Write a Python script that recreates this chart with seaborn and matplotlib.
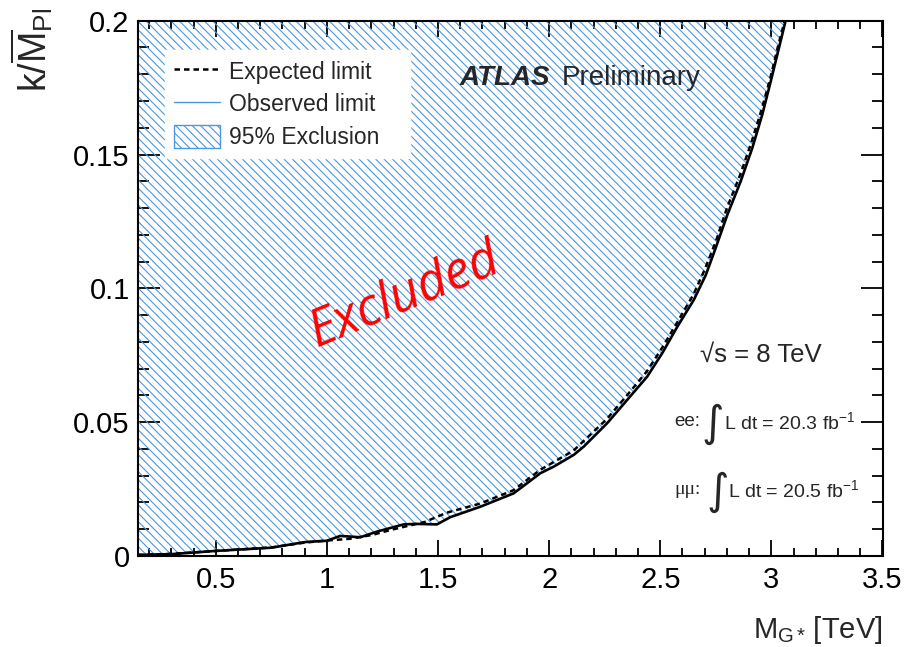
import numpy as np
import pandas as pd
import matplotlib
matplotlib.use("Agg")
import matplotlib.pyplot as plt
from matplotlib.lines import Line2D
from matplotlib.patches import Patch
from matplotlib.ticker import MultipleLocator, FuncFormatter
import seaborn as sns

# Observed limit on k/M_Pl versus graviton mass (TeV)
obs_mass = [0.15, 0.3, 0.5, 0.75, 0.9, 1.0, 1.06, 1.15, 1.225, 1.3, 1.345, 1.4,
            1.495, 1.555, 1.69, 1.84, 1.96, 2.021, 2.111, 2.156, 2.261, 2.351,
            2.441, 2.509, 2.577, 2.651, 2.705, 2.749, 2.802, 2.862, 2.914,
            2.959, 2.997, 3.034, 3.064]
obs_limit = [0.0004, 0.0007, 0.0019, 0.0031, 0.0052, 0.0057, 0.0075, 0.0070,
             0.0091, 0.0108, 0.0118, 0.0120, 0.0118, 0.0145, 0.0184, 0.0234,
             0.0309, 0.0334, 0.0378, 0.0409, 0.0496, 0.0583, 0.0670, 0.0758,
             0.0857, 0.0957, 0.1050, 0.1150, 0.1275, 0.1400, 0.1524, 0.1649,
             0.1773, 0.1898, 0.2]

# Expected limit
exp_mass = [0.15, 0.3, 0.5, 0.75, 0.9, 1.0, 1.1, 1.2, 1.3, 1.44, 1.54, 1.69,
            1.84, 1.96, 2.11, 2.26, 2.35, 2.44, 2.51, 2.58, 2.65, 2.70, 2.75,
            2.80, 2.86, 2.91, 2.955, 2.995, 3.03, 3.06]
exp_limit = [0.0004, 0.0008, 0.0019, 0.0032, 0.0050, 0.0058, 0.0064, 0.0078,
             0.0100, 0.0127, 0.0162, 0.0196, 0.0246, 0.0322, 0.0394, 0.0512,
             0.0600, 0.0690, 0.0780, 0.0878, 0.0978, 0.1070, 0.1175, 0.1300,
             0.1425, 0.1545, 0.1665, 0.1785, 0.1905, 0.2]

x_range = (0.15, 3.5)
y_range = (0.0, 0.2)

legend_labels = ["Expected limit", "Observed limit", "95% Exclusion"]

sns.set_style("ticks")
plt.rcParams["font.family"] = ["Liberation Sans", "DejaVu Sans"]
plt.rcParams["mathtext.fontset"] = "custom"
plt.rcParams["mathtext.rm"] = "Liberation Sans"
plt.rcParams["mathtext.it"] = "Liberation Sans:italic"
plt.rcParams["mathtext.bf"] = "Liberation Sans:bold"
plt.rcParams["hatch.linewidth"] = 0.8
HATCH_BLUE = "#4a97e4"
plt.rcParams["hatch.color"] = HATCH_BLUE
HATCH = "\\\\\\\\"

fig = plt.figure(figsize=(9.06, 6.47), dpi=100)
ax = fig.add_axes([138 / 906, 1 - 556 / 647, 744.5 / 906, (556 - 20.7) / 647])

obs_df = pd.DataFrame({"mass": obs_mass, "limit": obs_limit})
exp_df = pd.DataFrame({"mass": exp_mass, "limit": exp_limit})

# Excluded region: everything above the observed limit
ax.fill_between(obs_df["mass"], obs_df["limit"], y_range[1],
                facecolor="none", edgecolor=HATCH_BLUE, hatch=HATCH,
                linewidth=0, zorder=1)

sns.lineplot(data=exp_df, x="mass", y="limit", ax=ax, color="black",
             linewidth=1.8, estimator=None, sort=False, zorder=3)
ax.lines[-1].set_dashes([2.2, 1.6])
sns.lineplot(data=obs_df, x="mass", y="limit", ax=ax, color="black",
             linewidth=1.9, estimator=None, sort=False, zorder=4)

ax.set_xlim(*x_range)
ax.set_ylim(*y_range)
ax.set_xlabel("")
ax.set_ylabel("")

fmt = FuncFormatter(lambda v, p: f"{v:g}")
ax.xaxis.set_major_locator(MultipleLocator(0.5))
ax.xaxis.set_minor_locator(MultipleLocator(0.1))
ax.yaxis.set_major_locator(MultipleLocator(0.05))
ax.yaxis.set_minor_locator(MultipleLocator(0.01))
ax.xaxis.set_major_formatter(fmt)
ax.yaxis.set_major_formatter(fmt)

ax.tick_params(which="both", direction="in", top=True, right=True,
               labelsize=21, width=1.3, colors="black")
ax.tick_params(axis="x", which="major", length=11.5, pad=7)
ax.tick_params(axis="x", which="minor", length=5.5)
ax.tick_params(axis="y", which="major", length=15.5, pad=6)
ax.tick_params(axis="y", which="minor", length=8)
for s in ax.spines.values():
    s.set_visible(True)
    s.set_linewidth(1.5)
    s.set_color("black")

# Axis titles
fig.text(32 / 906, 1 - 8 / 647, r"k/$\overline{\mathrm{M}}_{\mathrm{Pl}}$",
         rotation=90, ha="center", va="top", fontsize=27)
fig.text(882 / 906, 1 - 638 / 647, r"M$_{\mathrm{G*}}\,$[TeV]",
         ha="right", va="baseline", fontsize=21)

# Legend
handles = [
    Line2D([], [], color="black", linewidth=1.8, dashes=[2.2, 1.6]),
    Line2D([], [], color=HATCH_BLUE, linewidth=1.0),
    Patch(facecolor="white", edgecolor=HATCH_BLUE, hatch=HATCH, linewidth=1.0),
]
leg = fig.legend(handles, legend_labels, loc="upper left",
                 bbox_to_anchor=(165 / 906, 1 - 50 / 647, 245 / 906, 0),
                 mode="expand", fontsize=16.5,
                 frameon=True, fancybox=False, framealpha=1,
                 edgecolor="white", facecolor="white", handlelength=2.0,
                 handleheight=1.2, handletextpad=0.4, labelspacing=0.36,
                 borderpad=0.4, borderaxespad=0)
leg.set_zorder(5)

# ATLAS label
fig.text(460 / 906, 1 - 78 / 647, "ATLAS", fontsize=20, fontweight="bold",
         fontstyle="italic", ha="left", va="center")
fig.text(562 / 906, 1 - 78 / 647, "Preliminary", fontsize=20,
         ha="left", va="center")

# Energy and luminosity
fig.text(700 / 906, 1 - 355 / 647, "\u221as = 8 TeV",
         fontsize=18.5, ha="left", va="center")
fig.text(674 / 906, 1 - 422 / 647, "ee:", fontsize=13.5, ha="left", va="center")
fig.text(701 / 906, 1 - 424 / 647, "\u222b", fontsize=31,
         family=["DejaVu Sans"], ha="left", va="center")
fig.text(724 / 906, 1 - 422 / 647, r"L dt = 20.3 fb$^{\mathregular{-1}}$",
         fontsize=14, ha="left", va="center")
fig.text(674 / 906, 1 - 490 / 647, "\u03bc\u03bc:", fontsize=14,
         family=["Liberation Serif", "DejaVu Serif"], ha="left", va="center")
fig.text(706 / 906, 1 - 492 / 647, "\u222b", fontsize=31,
         family=["DejaVu Sans"], ha="left", va="center")
fig.text(728 / 906, 1 - 490 / 647, r"L dt = 20.5 fb$^{\mathregular{-1}}$",
         fontsize=14, ha="left", va="center")

# Excluded annotation
fig.text(405 / 906, 1 - 295 / 647, "Excluded", color="red", fontsize=37,
         family=["Open Sans", "DejaVu Sans"], fontstyle="italic",
         rotation=22.5, rotation_mode="anchor", ha="center", va="center")

fig.savefig("out.png", dpi=100)
